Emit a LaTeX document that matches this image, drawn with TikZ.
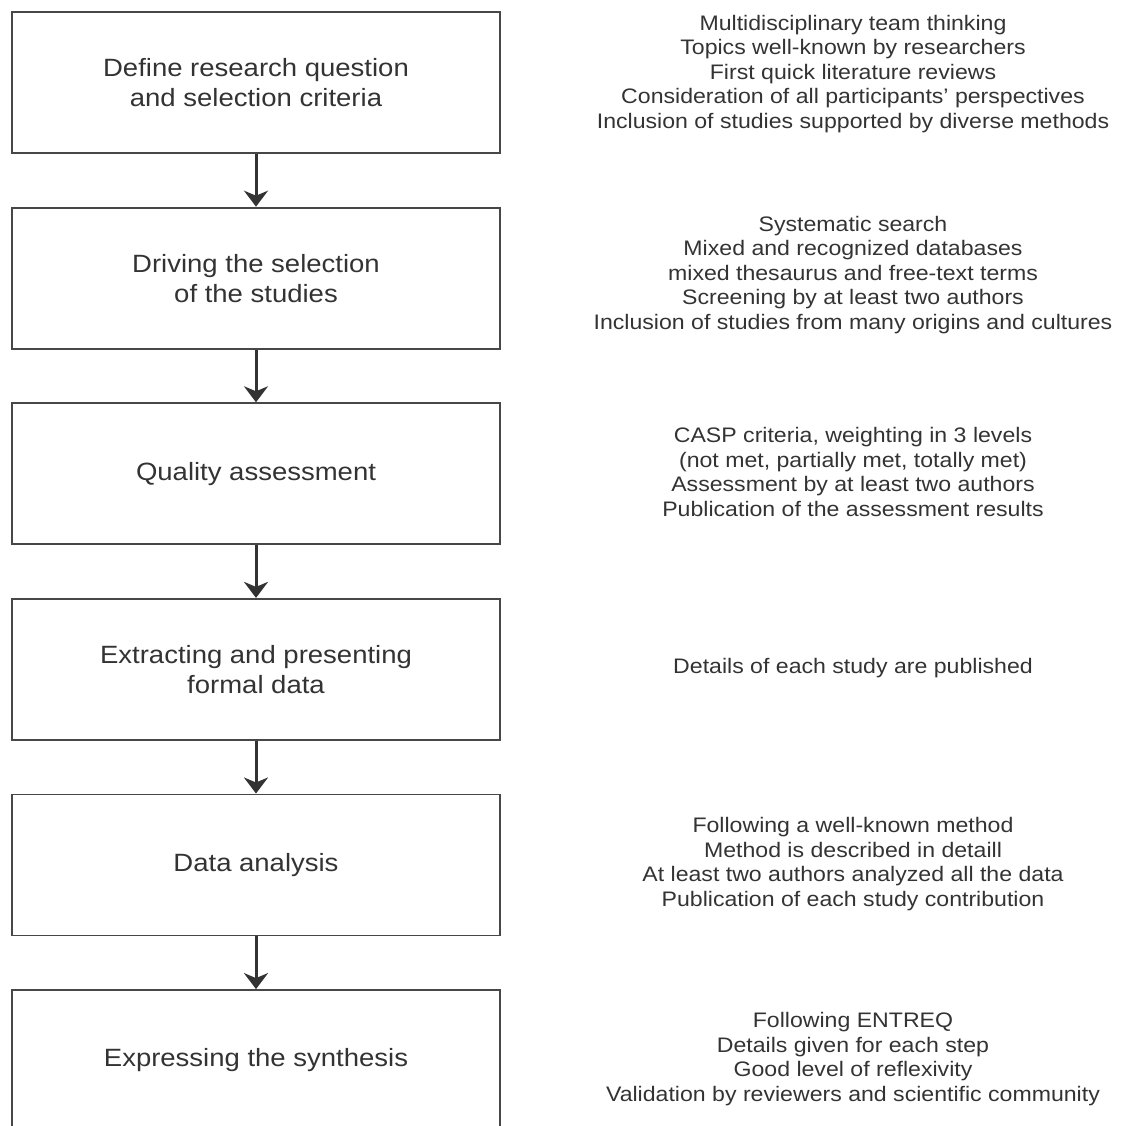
\documentclass[tikz,border=0pt]{standalone}
\usepackage{fontspec}
\setmainfont{Liberation Sans}[FakeStretch=1.1]
\usetikzlibrary{arrows.meta,positioning}

\begin{document}
\begin{tikzpicture}[
    x=1pt,y=-1pt,
    stagebox/.style={draw=frame,line width=1.8pt,minimum width=488pt,minimum height=141pt,
      inner sep=0pt,align=center,text=ink,font=\fontsize{25}{30}\selectfont},
    note/.style={align=center,text=ink,font=\fontsize{21}{24.5}\selectfont},
    link/.style={-{Stealth[length=16pt,width=24pt,inset=5pt]},line width=3pt,draw=ink}
  ]
  \colorlet{frame}{black!72}
  \colorlet{ink}{black!80}
  \def\boxx{256} \def\notex{853}
  \useasboundingbox (0,0) rectangle (1125,1126);
  % the six stages
  \node [stagebox] (define) at (\boxx,82.5) {Define research question\\and selection criteria};
  \node [stagebox] (driving) at (\boxx,278.1) {Driving the selection\\of the studies};
  \node [stagebox] (quality) at (\boxx,473.7) {Quality assessment};
  \node [stagebox] (extract) at (\boxx,669.3) {Extracting and presenting\\formal data};
  \node [stagebox] (analysis) at (\boxx,864.9) {Data analysis};
  \node [stagebox] (synthesis) at (\boxx,1060.5) {Expressing the synthesis};
  % what each stage asks for
  \node [note] (defineNote) at (\notex,74) {Multidisciplinary team thinking\\Topics well-known by researchers\\First quick literature reviews\\Consideration of all participants’ perspectives\\Inclusion of studies supported by diverse methods};
  \node [note] (drivingNote) at (\notex,275) {Systematic search\\Mixed and recognized databases\\mixed thesaurus and free-text terms\\Screening by at least two authors\\Inclusion of studies from many origins and cultures};
  \node [note] (qualityNote) at (\notex,472) {CASP criteria, weighting in 3 levels\\(not met, partially met, totally met)\\Assessment by at least two authors\\Publication of the assessment results};
  \node [note] (extractNote) at (\notex,668) {Details of each study are published};
  \node [note] (analysisNote) at (\notex,864) {Following a well-known method\\Method is described in detaill\\At least two authors analyzed all the data\\Publication of each study contribution};
  \node [note] (synthesisNote) at (\notex,1059) {Following ENTREQ\\Details given for each step\\Good level of reflexivity\\Validation by reviewers and scientific community};
  \foreach \from/\to in {define/driving,driving/quality,quality/extract,extract/analysis,analysis/synthesis}
    \draw [link] (\from) -- (\to);
\end{tikzpicture}
\end{document}
